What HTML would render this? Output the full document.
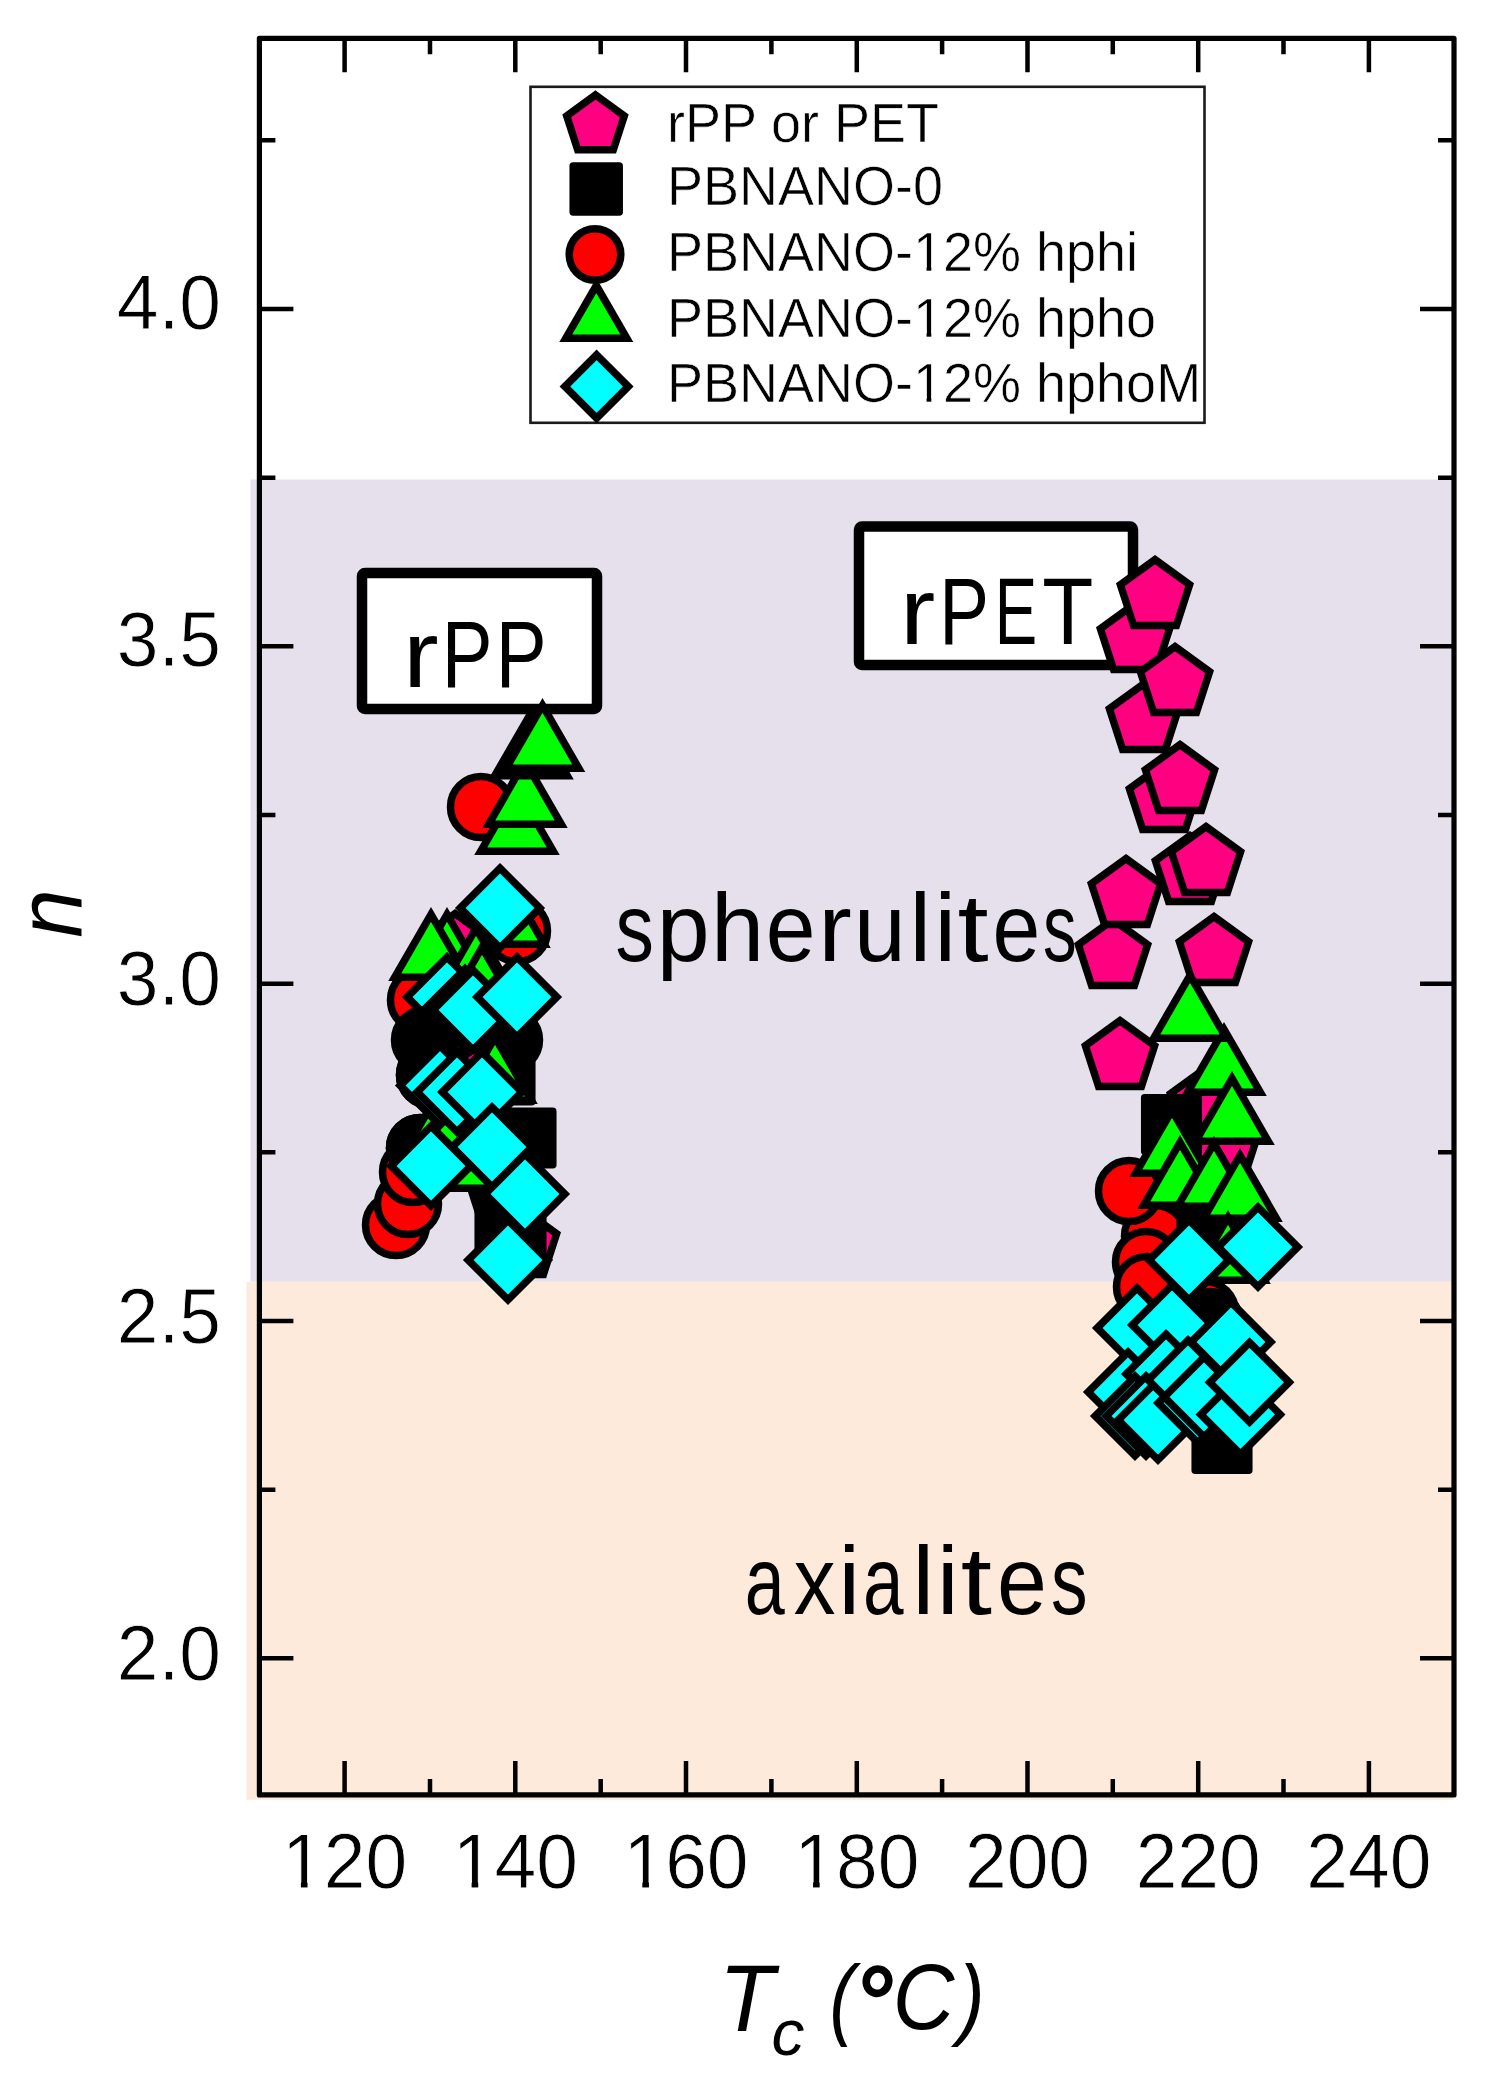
<!DOCTYPE html><html><head><meta charset="utf-8"><style>html,body{margin:0;padding:0;background:#fff;width:1489px;height:2089px;overflow:hidden}svg{display:block}text{font-family:"Liberation Sans",sans-serif}</style></head><body>
<svg width="1489" height="2089" viewBox="0 0 1489 2089">
<rect width="100%" height="100%" fill="#fff"/>
<rect x="250.5" y="479.5" width="1203" height="802.3" fill="#E6E0EC"/>
<rect x="246.5" y="1281.8" width="1207" height="518" fill="#FDEADA"/>
<rect x="362" y="573" width="235" height="136" rx="3" fill="#fff" stroke="#000" stroke-width="10.5"/>
<rect x="859" y="526.5" width="274" height="138.5" rx="3" fill="#fff" stroke="#000" stroke-width="10.5"/>
<text x="0" y="0" font-size="97" transform="translate(615.46,961.4) scale(0.792,1)">s</text>
<text x="0" y="0" font-size="97" transform="translate(656.77,961.4) scale(0.981,1)">p</text>
<text x="0" y="0" font-size="97" transform="translate(710.88,961.4) scale(0.985,1)">h</text>
<text x="0" y="0" font-size="97" transform="translate(765.70,961.4) scale(0.923,1)">e</text>
<text x="0" y="0" font-size="97" transform="translate(818.21,961.4) scale(1.039,1)">r</text>
<text x="0" y="0" font-size="97" transform="translate(854.06,961.4) scale(0.959,1)">u</text>
<text x="0" y="0" font-size="97" transform="translate(909.40,961.4) scale(1.000,1)">l</text>
<text x="0" y="0" font-size="97" transform="translate(934.60,961.4) scale(1.000,1)">i</text>
<text x="0" y="0" font-size="97" transform="translate(957.50,961.4) scale(1.155,1)">t</text>
<text x="0" y="0" font-size="97" transform="translate(992.45,961.4) scale(0.885,1)">e</text>
<text x="0" y="0" font-size="97" transform="translate(1042.92,961.4) scale(0.695,1)">s</text>
<text x="0" y="0" font-size="97" transform="translate(744.65,1614.2) scale(0.741,1)">a</text>
<text x="0" y="0" font-size="97" transform="translate(793.86,1614.2) scale(0.860,1)">x</text>
<text x="0" y="0" font-size="97" transform="translate(838.50,1614.2) scale(1.000,1)">i</text>
<text x="0" y="0" font-size="97" transform="translate(863.11,1614.2) scale(0.751,1)">a</text>
<text x="0" y="0" font-size="97" transform="translate(912.40,1614.2) scale(1.000,1)">l</text>
<text x="0" y="0" font-size="97" transform="translate(937.00,1614.2) scale(1.000,1)">i</text>
<text x="0" y="0" font-size="97" transform="translate(960.70,1614.2) scale(1.159,1)">t</text>
<text x="0" y="0" font-size="97" transform="translate(996.89,1614.2) scale(0.925,1)">e</text>
<text x="0" y="0" font-size="97" transform="translate(1050.96,1614.2) scale(0.754,1)">s</text>
<text x="0" y="0" font-size="93.75" transform="translate(402.88,686.9) scale(1.143,1)">r</text>
<text x="0" y="0" font-size="93.75" transform="translate(441.86,686.9) scale(0.812,1)">P</text>
<text x="0" y="0" font-size="93.75" transform="translate(495.84,686.9) scale(0.814,1)">P</text>
<text x="0" y="0" font-size="93.75" transform="translate(899.96,643.6) scale(1.131,1)">r</text>
<text x="0" y="0" font-size="93.75" transform="translate(939.18,643.6) scale(0.796,1)">P</text>
<text x="0" y="0" font-size="93.75" transform="translate(994.78,643.6) scale(0.679,1)">E</text>
<text x="0" y="0" font-size="93.75" transform="translate(1042.32,643.6) scale(0.892,1)">T</text>
<polygon points="455.0,913.6 489.6,938.8 476.4,979.4 433.6,979.4 420.4,938.8" fill="#FF0080" stroke="#000" stroke-width="7.5"/>
<polygon points="498.0,1031.6 532.6,1056.8 519.4,1097.4 476.6,1097.4 463.4,1056.8" fill="#FF0080" stroke="#000" stroke-width="7.5"/>
<polygon points="507.0,1168.6 541.6,1193.8 528.4,1234.4 485.6,1234.4 472.4,1193.8" fill="#FF0080" stroke="#000" stroke-width="7.5"/>
<polygon points="522.0,1208.6 556.6,1233.8 543.4,1274.4 500.6,1274.4 487.4,1233.8" fill="#FF0080" stroke="#000" stroke-width="7.5"/>
<polygon points="1135.0,603.6 1169.6,628.8 1156.4,669.4 1113.6,669.4 1100.4,628.8" fill="#FF0080" stroke="#000" stroke-width="7.5"/>
<polygon points="1155.0,559.6 1189.6,584.8 1176.4,625.4 1133.6,625.4 1120.4,584.8" fill="#FF0080" stroke="#000" stroke-width="7.5"/>
<polygon points="1144.0,683.6 1178.6,708.8 1165.4,749.4 1122.6,749.4 1109.4,708.8" fill="#FF0080" stroke="#000" stroke-width="7.5"/>
<polygon points="1175.0,646.6 1209.6,671.8 1196.4,712.4 1153.6,712.4 1140.4,671.8" fill="#FF0080" stroke="#000" stroke-width="7.5"/>
<polygon points="1164.0,763.6 1198.6,788.8 1185.4,829.4 1142.6,829.4 1129.4,788.8" fill="#FF0080" stroke="#000" stroke-width="7.5"/>
<polygon points="1180.0,744.6 1214.6,769.8 1201.4,810.4 1158.6,810.4 1145.4,769.8" fill="#FF0080" stroke="#000" stroke-width="7.5"/>
<polygon points="1190.0,835.6 1224.6,860.8 1211.4,901.4 1168.6,901.4 1155.4,860.8" fill="#FF0080" stroke="#000" stroke-width="7.5"/>
<polygon points="1206.0,826.6 1240.6,851.8 1227.4,892.4 1184.6,892.4 1171.4,851.8" fill="#FF0080" stroke="#000" stroke-width="7.5"/>
<polygon points="1113.0,919.6 1147.6,944.8 1134.4,985.4 1091.6,985.4 1078.4,944.8" fill="#FF0080" stroke="#000" stroke-width="7.5"/>
<polygon points="1126.0,858.6 1160.6,883.8 1147.4,924.4 1104.6,924.4 1091.4,883.8" fill="#FF0080" stroke="#000" stroke-width="7.5"/>
<polygon points="1214.0,916.6 1248.6,941.8 1235.4,982.4 1192.6,982.4 1179.4,941.8" fill="#FF0080" stroke="#000" stroke-width="7.5"/>
<polygon points="1120.0,1020.6 1154.6,1045.8 1141.4,1086.4 1098.6,1086.4 1085.4,1045.8" fill="#FF0080" stroke="#000" stroke-width="7.5"/>
<polygon points="1205.0,1068.6 1239.6,1093.8 1226.4,1134.4 1183.6,1134.4 1170.4,1093.8" fill="#FF0080" stroke="#000" stroke-width="7.5"/>
<polygon points="1222.0,1113.6 1256.6,1138.8 1243.4,1179.4 1200.6,1179.4 1187.4,1138.8" fill="#FF0080" stroke="#000" stroke-width="7.5"/>
<rect x="478.2" y="1048.2" width="53.6" height="53.6" fill="#000" stroke="#000" stroke-width="7.5" stroke-linejoin="round"/>
<rect x="499.2" y="1111.2" width="53.6" height="53.6" fill="#000" stroke="#000" stroke-width="7.5" stroke-linejoin="round"/>
<rect x="478.2" y="1195.2" width="53.6" height="53.6" fill="#000" stroke="#000" stroke-width="7.5" stroke-linejoin="round"/>
<rect x="489.2" y="1218.2" width="53.6" height="53.6" fill="#000" stroke="#000" stroke-width="7.5" stroke-linejoin="round"/>
<rect x="1144.7" y="1097.7" width="53.6" height="53.6" fill="#000" stroke="#000" stroke-width="7.5" stroke-linejoin="round"/>
<rect x="1195.2" y="1416.7" width="53.6" height="53.6" fill="#000" stroke="#000" stroke-width="7.5" stroke-linejoin="round"/>
<circle cx="481" cy="807" r="30.5" fill="#FF0000" stroke="#000" stroke-width="7.5"/>
<circle cx="421" cy="1000" r="30.5" fill="#FF0000" stroke="#000" stroke-width="7.5"/>
<circle cx="517" cy="931" r="30.5" fill="#FF0000" stroke="#000" stroke-width="7.5"/>
<circle cx="433" cy="1040" r="30.5" fill="#FF0000" stroke="#000" stroke-width="7.5"/>
<circle cx="509" cy="1040" r="30.5" fill="#FF0000" stroke="#000" stroke-width="7.5"/>
<circle cx="430" cy="1075" r="30.5" fill="#FF0000" stroke="#000" stroke-width="7.5"/>
<circle cx="396" cy="1225" r="30.5" fill="#FF0000" stroke="#000" stroke-width="7.5"/>
<circle cx="408" cy="1204" r="30.5" fill="#FF0000" stroke="#000" stroke-width="7.5"/>
<circle cx="413" cy="1172" r="30.5" fill="#FF0000" stroke="#000" stroke-width="7.5"/>
<circle cx="420" cy="1148" r="30.5" fill="#FF0000" stroke="#000" stroke-width="7.5"/>
<circle cx="1180" cy="1222" r="30.5" fill="#FF0000" stroke="#000" stroke-width="7.5"/>
<circle cx="1155" cy="1236" r="30.5" fill="#FF0000" stroke="#000" stroke-width="7.5"/>
<circle cx="1146" cy="1262" r="30.5" fill="#FF0000" stroke="#000" stroke-width="7.5"/>
<circle cx="1147" cy="1287" r="30.5" fill="#FF0000" stroke="#000" stroke-width="7.5"/>
<circle cx="1129" cy="1191" r="30.5" fill="#FF0000" stroke="#000" stroke-width="7.5"/>
<circle cx="1205" cy="1312" r="30.5" fill="#FF0000" stroke="#000" stroke-width="7.5"/>
<rect x="1180.2" y="1213.2" width="53.6" height="53.6" fill="#000" stroke="#000" stroke-width="7.5" stroke-linejoin="round"/>
<circle cx="430" cy="1075" r="30.5" fill="#000" stroke="#000" stroke-width="7.5"/>
<circle cx="420" cy="1148" r="30.5" fill="#000" stroke="#000" stroke-width="7.5"/>
<circle cx="425" cy="1040" r="30.5" fill="#000" stroke="#000" stroke-width="7.5"/>
<circle cx="504" cy="1036" r="30.5" fill="#000" stroke="#000" stroke-width="7.5"/>
<circle cx="1210" cy="1322" r="30.5" fill="#000" stroke="#000" stroke-width="7.5"/>
<polygon points="517.0,788.4 553.3,851.3 480.7,851.3" fill="#00FF00" stroke="#000" stroke-width="7.5"/>
<polygon points="525.0,761.4 561.3,824.3 488.7,824.3" fill="#00FF00" stroke="#000" stroke-width="7.5"/>
<polygon points="531.0,712.9 567.3,775.8 494.7,775.8" fill="#00FF00" stroke="#000" stroke-width="7.5"/>
<polygon points="542.5,705.4 578.8,768.3 506.2,768.3" fill="#00FF00" stroke="#000" stroke-width="7.5"/>
<polygon points="447.0,914.4 483.3,977.3 410.7,977.3" fill="#00FF00" stroke="#000" stroke-width="7.5"/>
<polygon points="431.0,914.4 467.3,977.3 394.7,977.3" fill="#00FF00" stroke="#000" stroke-width="7.5"/>
<polygon points="508.0,881.4 544.3,944.3 471.7,944.3" fill="#00FF00" stroke="#000" stroke-width="7.5"/>
<polygon points="476.0,928.4 512.3,991.3 439.7,991.3" fill="#00FF00" stroke="#000" stroke-width="7.5"/>
<polygon points="482.0,947.4 518.3,1010.3 445.7,1010.3" fill="#00FF00" stroke="#000" stroke-width="7.5"/>
<polygon points="495.0,1037.4 531.3,1100.3 458.7,1100.3" fill="#00FF00" stroke="#000" stroke-width="7.5"/>
<polygon points="440.0,1090.4 476.3,1153.3 403.7,1153.3" fill="#00FF00" stroke="#000" stroke-width="7.5"/>
<polygon points="470.0,1125.4 506.3,1188.3 433.7,1188.3" fill="#00FF00" stroke="#000" stroke-width="7.5"/>
<polygon points="1224.0,1029.4 1260.3,1092.3 1187.7,1092.3" fill="#00FF00" stroke="#000" stroke-width="7.5"/>
<polygon points="1190.0,975.4 1226.3,1038.3 1153.7,1038.3" fill="#00FF00" stroke="#000" stroke-width="7.5"/>
<polygon points="1232.0,1078.4 1268.3,1141.3 1195.7,1141.3" fill="#00FF00" stroke="#000" stroke-width="7.5"/>
<polygon points="1172.0,1110.4 1208.3,1173.3 1135.7,1173.3" fill="#00FF00" stroke="#000" stroke-width="7.5"/>
<polygon points="1180.0,1142.4 1216.3,1205.3 1143.7,1205.3" fill="#00FF00" stroke="#000" stroke-width="7.5"/>
<polygon points="1214.0,1143.4 1250.3,1206.3 1177.7,1206.3" fill="#00FF00" stroke="#000" stroke-width="7.5"/>
<polygon points="1240.0,1155.4 1276.3,1218.3 1203.7,1218.3" fill="#00FF00" stroke="#000" stroke-width="7.5"/>
<polygon points="1228.0,1217.4 1264.3,1280.3 1191.7,1280.3" fill="#00FF00" stroke="#000" stroke-width="7.5"/>
<polygon points="500.0,868.2 539.8,908.0 500.0,947.8 460.2,908.0" fill="#00FFFF" stroke="#000" stroke-width="7.5"/>
<polygon points="447.0,957.2 486.8,997.0 447.0,1036.8 407.2,997.0" fill="#00FFFF" stroke="#000" stroke-width="7.5"/>
<polygon points="465.0,968.8 504.8,1008.5 465.0,1048.2 425.2,1008.5" fill="#00FFFF" stroke="#000" stroke-width="7.5"/>
<polygon points="473.0,970.2 512.8,1010.0 473.0,1049.8 433.2,1010.0" fill="#00FFFF" stroke="#000" stroke-width="7.5"/>
<polygon points="517.0,957.2 556.8,997.0 517.0,1036.8 477.2,997.0" fill="#00FFFF" stroke="#000" stroke-width="7.5"/>
<polygon points="440.0,1045.8 479.8,1085.5 440.0,1125.2 400.2,1085.5" fill="#00FFFF" stroke="#000" stroke-width="7.5"/>
<polygon points="457.0,1052.2 496.8,1092.0 457.0,1131.8 417.2,1092.0" fill="#00FFFF" stroke="#000" stroke-width="7.5"/>
<polygon points="482.0,1052.2 521.8,1092.0 482.0,1131.8 442.2,1092.0" fill="#00FFFF" stroke="#000" stroke-width="7.5"/>
<polygon points="492.0,1107.2 531.8,1147.0 492.0,1186.8 452.2,1147.0" fill="#00FFFF" stroke="#000" stroke-width="7.5"/>
<polygon points="431.0,1126.2 470.8,1166.0 431.0,1205.8 391.2,1166.0" fill="#00FFFF" stroke="#000" stroke-width="7.5"/>
<polygon points="525.0,1154.2 564.8,1194.0 525.0,1233.8 485.2,1194.0" fill="#00FFFF" stroke="#000" stroke-width="7.5"/>
<polygon points="508.0,1220.2 547.8,1260.0 508.0,1299.8 468.2,1260.0" fill="#00FFFF" stroke="#000" stroke-width="7.5"/>
<polygon points="1189.0,1220.2 1228.8,1260.0 1189.0,1299.8 1149.2,1260.0" fill="#00FFFF" stroke="#000" stroke-width="7.5"/>
<polygon points="1258.0,1207.2 1297.8,1247.0 1258.0,1286.8 1218.2,1247.0" fill="#00FFFF" stroke="#000" stroke-width="7.5"/>
<polygon points="1137.0,1288.2 1176.8,1328.0 1137.0,1367.8 1097.2,1328.0" fill="#00FFFF" stroke="#000" stroke-width="7.5"/>
<polygon points="1172.0,1285.2 1211.8,1325.0 1172.0,1364.8 1132.2,1325.0" fill="#00FFFF" stroke="#000" stroke-width="7.5"/>
<polygon points="1231.0,1302.2 1270.8,1342.0 1231.0,1381.8 1191.2,1342.0" fill="#00FFFF" stroke="#000" stroke-width="7.5"/>
<polygon points="1128.0,1352.2 1167.8,1392.0 1128.0,1431.8 1088.2,1392.0" fill="#00FFFF" stroke="#000" stroke-width="7.5"/>
<polygon points="1166.0,1334.2 1205.8,1374.0 1166.0,1413.8 1126.2,1374.0" fill="#00FFFF" stroke="#000" stroke-width="7.5"/>
<polygon points="1135.0,1376.2 1174.8,1416.0 1135.0,1455.8 1095.2,1416.0" fill="#00FFFF" stroke="#000" stroke-width="7.5"/>
<polygon points="1146.0,1376.2 1185.8,1416.0 1146.0,1455.8 1106.2,1416.0" fill="#00FFFF" stroke="#000" stroke-width="7.5"/>
<polygon points="1158.0,1380.2 1197.8,1420.0 1158.0,1459.8 1118.2,1420.0" fill="#00FFFF" stroke="#000" stroke-width="7.5"/>
<polygon points="1198.0,1363.2 1237.8,1403.0 1198.0,1442.8 1158.2,1403.0" fill="#00FFFF" stroke="#000" stroke-width="7.5"/>
<polygon points="1188.0,1340.2 1227.8,1380.0 1188.0,1419.8 1148.2,1380.0" fill="#00FFFF" stroke="#000" stroke-width="7.5"/>
<polygon points="1204.0,1357.2 1243.8,1397.0 1204.0,1436.8 1164.2,1397.0" fill="#00FFFF" stroke="#000" stroke-width="7.5"/>
<polygon points="1240.5,1374.8 1280.2,1414.5 1240.5,1454.2 1200.8,1414.5" fill="#00FFFF" stroke="#000" stroke-width="7.5"/>
<polygon points="1249.5,1342.5 1289.2,1382.3 1249.5,1422.0 1209.8,1382.3" fill="#00FFFF" stroke="#000" stroke-width="7.5"/>
<rect x="259.4" y="38.3" width="1194.6" height="1756.6000000000001" fill="none" stroke="#000" stroke-width="5.2" stroke-linejoin="round"/>
<path d="M344.6,1794.9v-34M344.6,38.3v34M515.3,1794.9v-34M515.3,38.3v34M686.0,1794.9v-34M686.0,38.3v34M856.8,1794.9v-34M856.8,38.3v34M1027.5,1794.9v-34M1027.5,38.3v34M1198.2,1794.9v-34M1198.2,38.3v34M1368.9,1794.9v-34M1368.9,38.3v34M430.0,1794.9v-16M430.0,38.3v16M600.7,1794.9v-16M600.7,38.3v16M771.4,1794.9v-16M771.4,38.3v16M942.1,1794.9v-16M942.1,38.3v16M1112.8,1794.9v-16M1112.8,38.3v16M1283.5,1794.9v-16M1283.5,38.3v16M259.4,1658.3h34M1454.0,1658.3h-34M259.4,1321.0h34M1454.0,1321.0h-34M259.4,983.7h34M1454.0,983.7h-34M259.4,646.3h34M1454.0,646.3h-34M259.4,309.0h34M1454.0,309.0h-34M259.4,1489.7h16M1454.0,1489.7h-16M259.4,1152.3h16M1454.0,1152.3h-16M259.4,815.0h16M1454.0,815.0h-16M259.4,477.7h16M1454.0,477.7h-16M259.4,140.3h16M1454.0,140.3h-16" stroke="#000" stroke-width="4.5" fill="none"/>
<text x="0" y="0" font-size="75" stroke="#fff" stroke-width="0.8" text-anchor="middle" transform="translate(344.6,1888) scale(1,1.04)">120</text>
<text x="0" y="0" font-size="75" stroke="#fff" stroke-width="0.8" text-anchor="middle" transform="translate(515.3,1888) scale(1,1.04)">140</text>
<text x="0" y="0" font-size="75" stroke="#fff" stroke-width="0.8" text-anchor="middle" transform="translate(686.0,1888) scale(1,1.04)">160</text>
<text x="0" y="0" font-size="75" stroke="#fff" stroke-width="0.8" text-anchor="middle" transform="translate(856.8,1888) scale(1,1.04)">180</text>
<text x="0" y="0" font-size="75" stroke="#fff" stroke-width="0.8" text-anchor="middle" transform="translate(1027.5,1888) scale(1,1.04)">200</text>
<text x="0" y="0" font-size="75" stroke="#fff" stroke-width="0.8" text-anchor="middle" transform="translate(1198.2,1888) scale(1,1.04)">220</text>
<text x="0" y="0" font-size="75" stroke="#fff" stroke-width="0.8" text-anchor="middle" transform="translate(1368.9,1888) scale(1,1.04)">240</text>
<text x="0" y="0" font-size="75" stroke="#fff" stroke-width="0.8" text-anchor="end" transform="translate(221,1680.3) scale(1,1.04)">2.0</text>
<text x="0" y="0" font-size="75" stroke="#fff" stroke-width="0.8" text-anchor="end" transform="translate(221,1343.0) scale(1,1.04)">2.5</text>
<text x="0" y="0" font-size="75" stroke="#fff" stroke-width="0.8" text-anchor="end" transform="translate(221,1005.2) scale(1,1.04)">3.0</text>
<text x="0" y="0" font-size="75" stroke="#fff" stroke-width="0.8" text-anchor="end" transform="translate(221,665.8) scale(1,1.04)">3.5</text>
<text x="0" y="0" font-size="75" stroke="#fff" stroke-width="0.8" text-anchor="end" transform="translate(221,328.5) scale(1,1.04)">4.0</text>
<text x="0" y="0" font-size="93" font-style="italic" transform="translate(81.8,937.75) rotate(-90) scale(0.937,1)">n</text>
<text x="0" y="0" font-size="95.2" font-style="italic" transform="translate(719.1,2030.7) scale(0.949,1)">T</text>
<text x="0" y="0" font-size="65.7" font-style="italic" transform="translate(771.4,2055.3)">c</text>
<text x="0" y="0" font-size="88.6" font-style="italic" transform="translate(829.5,2028.4) scale(0.853,1)">(</text>
<ellipse cx="877.5" cy="1981.2" rx="11.2" ry="12.2" fill="none" stroke="#000" stroke-width="7.6" transform="rotate(15 877.5 1981.2)"/>
<text x="0" y="0" font-size="92" font-style="italic" transform="translate(892.8,2029.2) scale(0.927,1)">C</text>
<text x="0" y="0" font-size="88.6" font-style="italic" transform="translate(958.5,2028.4) scale(0.886,1)">)</text>
<rect x="530.5" y="86.8" width="674" height="336" fill="#fff" stroke="#1a1a1a" stroke-width="2.6"/>
<polygon points="595.5,95.0 624.3,115.9 613.3,149.8 577.7,149.8 566.7,115.9" fill="#FF0080" stroke="#000" stroke-width="7.5"/>
<rect x="573.2" y="166.0" width="46.0" height="46.0" fill="#000" stroke="#000" stroke-width="7.5" stroke-linejoin="round"/>
<circle cx="595" cy="254.5" r="25.8" fill="#FF0000" stroke="#000" stroke-width="7.5"/>
<polygon points="596.3,285.5 626.8,338.2 565.8,338.2" fill="#00FF00" stroke="#000" stroke-width="7.5"/>
<polygon points="596.6,354.8 628.3,386.5 596.6,418.2 564.9,386.5" fill="#00FFFF" stroke="#000" stroke-width="7.5"/>
<text x="0" y="0" font-size="54" stroke="#fff" stroke-width="0.6" transform="translate(667,142.2) scale(1,1.04)">rPP or PET</text>
<text x="0" y="0" font-size="54" stroke="#fff" stroke-width="0.6" transform="translate(667,204.5) scale(1,1.04)">PBNANO-0</text>
<text x="0" y="0" font-size="54" stroke="#fff" stroke-width="0.6" transform="translate(667,270.9) scale(1,1.04)">PBNANO-12% hphi</text>
<text x="0" y="0" font-size="54" stroke="#fff" stroke-width="0.6" transform="translate(667,336.7) scale(1,1.04)">PBNANO-12% hpho</text>
<text x="0" y="0" font-size="54" stroke="#fff" stroke-width="0.6" transform="translate(667,401.8) scale(1,1.04)">PBNANO-12% hphoM</text>
<rect x="286.75" y="1880.97" width="14.15" height="8.03" fill="#fff"/>
<rect x="307.52" y="1880.97" width="13.56" height="8.03" fill="#fff"/>
<rect x="457.46" y="1880.97" width="14.15" height="8.03" fill="#fff"/>
<rect x="478.24" y="1880.97" width="13.56" height="8.03" fill="#fff"/>
<rect x="628.18" y="1880.97" width="14.15" height="8.03" fill="#fff"/>
<rect x="648.95" y="1880.97" width="13.56" height="8.03" fill="#fff"/>
<rect x="798.90" y="1880.97" width="14.15" height="8.03" fill="#fff"/>
<rect x="819.67" y="1880.97" width="13.56" height="8.03" fill="#fff"/>
<rect x="916.08" y="265.50" width="10.47" height="6.40" fill="#fff"/>
<rect x="931.32" y="265.50" width="10.04" height="6.40" fill="#fff"/>
<rect x="916.08" y="331.30" width="10.47" height="6.40" fill="#fff"/>
<rect x="931.32" y="331.30" width="10.04" height="6.40" fill="#fff"/>
<rect x="916.08" y="396.40" width="10.47" height="6.40" fill="#fff"/>
<rect x="931.32" y="396.40" width="10.04" height="6.40" fill="#fff"/>
</svg></body></html>
